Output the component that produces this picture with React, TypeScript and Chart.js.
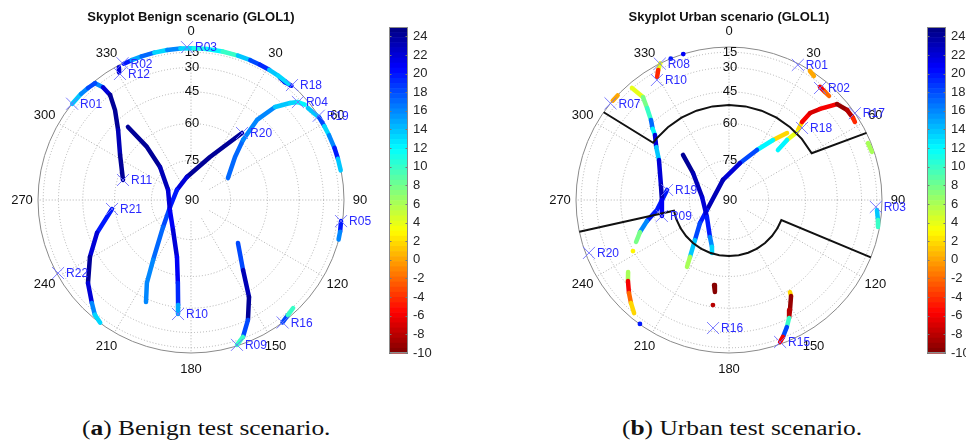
import React, { useEffect, useRef } from "react";
import { Chart, registerables } from "chart.js";

Chart.register(...registerables);

type Pt = [number, number, number]; // [azimuth deg, elevation deg, value]

const colorMin = -10;
const colorMax = 25;
const colorTicks = [-10, -8, -6, -4, -2, 0, 2, 4, 6, 8, 10, 12, 14, 16, 18, 20, 22, 24];
const azimuthTicks = [0, 30, 60, 90, 120, 150, 180, 210, 240, 270, 300, 330];
const elevationRings = [15, 30, 45, 60, 75];
const elevationTicks = [15, 30, 45, 60, 75, 90];

// ---------- Benign scenario ----------
const benignR02: Pt[] = [[333.8, 7, 20], [337, 7, 15], [341, 7, 17], [346, 7, 13], [351, 7, 16], [356, 7, 13], [1, 7, 11], [6, 7, 12], [12, 7, 10], [18, 7, 14], [23, 7, 18], [27, 7, 19], [31, 7, 14], [35, 7, 13], [40, 7, 15]];
const benignR12: Pt[] = [[331.5, 9, 22], [330.6, 17, 23]];
const benignR18: Pt[] = [[36.1, 9, 22], [38.5, 10, 20], [41.3, 6, 18]];
const benignR01: Pt[] = [[309, 3, 14], [314, 3, 16], [317.4, 6, 18], [320.6, 9, 15]];
const benignR11: Pt[] = [[320.6, 9, 16], [322, 20.8, 22], [322.4, 29.9, 24], [319.8, 39.7, 24], [313.8, 48.7, 23], [302.4, 56.7, 24], [286.4, 62.4, 23]];
const benignR10: Pt[] = [[319.2, 50.9, 24], [320.3, 63.2, 24], [316.8, 72.8, 23], [293.5, 80.6, 22], [244.5, 81.2, 21], [211, 76.8, 22], [193.8, 67.4, 21], [189, 56.7, 19], [187, 46.3, 15], [186.5, 41.4, 16]];
const benignR20: Pt[] = [[37.3, 56.6, 24], [23.8, 72.1, 24], [350, 81.2, 22], [305.5, 83.5, 20], [251.6, 81.7, 18], [226, 75.3, 17], [212.3, 62.4, 16], [208, 52.1, 16], [203.8, 43.2, 14]];
const benignR04: Pt[] = [[59.3, 73.7, 17], [45.7, 66.3, 17], [40.9, 58.7, 16], [39.5, 47.3, 16], [42.1, 35, 14], [45.6, 25, 13], [47.5, 18.6, 12], [50, 14, 9]];
const benignR19: Pt[] = [[51.8, 13.5, 14], [57.2, 5, 18], [61, 5, 13], [64.9, 5, 16], [70, 4, 20], [74.3, 4, 14], [78.8, 4, 13]];
const benignR05: Pt[] = [[98, 8, 20], [102, 5, 16], [105, 3, 11]];
const benignR21: Pt[] = [[263.5, 58.7, 20], [250.7, 49.4, 22], [240.6, 40.7, 24], [231.1, 30.1, 22], [223.9, 20.9, 16], [220, 12, 13], [216.5, 4, 18]];
const benignR09: Pt[] = [[132.5, 65.4, 18], [143.4, 55.2, 23], [149.1, 42.4, 24], [154.6, 29.8, 18], [159.2, 16.8, 10], [162.4, 6.6, 14]];
const benignR16: Pt[] = [[143.2, 3, 18], [139.9, 10.5, 10], [136.6, 13.7, 8]];
const benignTracks: Pt[][] = [benignR02, benignR12, benignR18, benignR01, benignR11, benignR10, benignR20, benignR04, benignR19, benignR05, benignR21, benignR09, benignR16];
const benignDots: Pt[] = [];

const benignNames = ["R03", "R02", "R12", "R01", "R18", "R04", "R19", "R20", "R11", "R21", "R05", "R22", "R10", "R16", "R09"];
const benignNameAz = [358.5, 333.4, 330.6, 309, 41.3, 47.5, 56.6, 37.3, 286.4, 263.5, 98, 241.2, 186.5, 143.2, 162.4];
const benignNameEl = [2, 2, 19, 1, 1, 18.6, 1, 56.6, 62.4, 58.7, 8, 7.5, 41.4, 1, 6.6];

// ---------- Urban scenario ----------
const urbanR10: Pt[] = [[333.3, 2, 4], [331.4, 14.7, -4], [329.7, 21.4, -6]];
const urbanR07: Pt[] = [[310.5, 2, 0], [313.2, 3, 2]];
const urbanR09: Pt[] = [[319.1, 14.4, 4], [320.1, 28.7, 8], [318.3, 36.4, 10], [315.7, 43.1, 17], [313, 47, 12], [311.3, 49.9, 22], [306, 54, 14], [299.7, 58.2, 22], [282.4, 62.9, 23], [270, 64, 21], [256.6, 63.2, 20]];
const urbanR19: Pt[] = [[279.2, 65.8, 20], [262.1, 61.6, 20], [255.6, 56.4, 16], [250.2, 51.8, 8], [245.7, 48.2, 0]];
const urbanTrackA: Pt[] = [[314.4, 65.1, 24], [306.9, 72.9, 23], [276.3, 79.8, 22], [232.3, 79.5, 20], [207.2, 74.2, 16], [200, 71, 13], [197.8, 68.7, 8]];
const urbanR18: Pt[] = [[40.9, 54.6, 2], [36.3, 60.9, 12], [29.2, 68, 18], [16.6, 75.4, 22], [343.3, 82.1, 23], [245.6, 80.9, 20], [231.6, 76, 18], [220.4, 69.9, 14], [214.4, 63.2, 6], [212.1, 58.9, -4]];
const urbanR18b: Pt[] = [[45, 51, 4], [44, 56.9, 12], [44.4, 62.8, 8]];
const urbanR17: Pt[] = [[44.6, 50, 2], [43.1, 45.7, -6], [43, 39, -7], [45, 32.7, -6], [48.4, 19.2, -9], [52.7, 14, -8], [56.5, 13.6, -4], [58.2, 14.4, 4]];
const urbanR01: Pt[] = [[32.1, 5.5, 0], [34.4, 10.8, 6]];
const urbanR02: Pt[] = [[38.8, 18.5, -6], [41.6, 19.2, -2], [43.9, 19.4, 4]];
const urbanR17b: Pt[] = [[67.7, 11, 6], [71.4, 9.7, 12]];
const urbanR03: Pt[] = [[93.9, 14.2, 14], [97.6, 10.8, 10], [100.3, 8.2, -4]];
const urbanR20: Pt[] = [[234.5, 35.9, 6], [231.3, 32.2, -6], [227.1, 26.8, -2], [223.6, 21.7, 2], [220, 15.2, 6]];
const urbanR16: Pt[] = [[190, 55.7, -10], [188.7, 52.5, -9]];
const urbanR15: Pt[] = [[146.5, 43.8, 2], [147.1, 41.7, -9], [151, 34.7, -8], [153, 30.1, 10], [155.5, 24.2, 18], [158.5, 15.8, -6], [160.2, 9.5, -8]];
const urbanTracks: Pt[][] = [urbanR10, urbanR07, urbanR09, urbanR19, urbanTrackA, urbanR18, urbanR18b, urbanR17, urbanR01, urbanR02, urbanR17b, urbanR03, urbanR20, urbanR16, urbanR15];
const urbanDots: Pt[] = [[337.6, 2, 20], [342.6, 2, 21], [242, 44.7, 3], [215.7, 4, 20], [188.7, 46, -8]];

const urbanNames = ["R08", "R10", "R07", "R01", "R02", "R17", "R18", "R19", "R09", "R03", "R20", "R16", "R15"];
const urbanNameAz = [333.1, 329, 309.2, 27, 39.1, 55.4, 45.4, 279.2, 256.6, 92.7, 249.3, 187.1, 160.2];
const urbanNameEl = [2, 23.8, 2, 7.7, 19.4, 2, 47.9, 65.8, 63.2, 16.1, 12, 32.5, 9.5];

// elevation mask (urban)
const maskUpperAz = [305, 307, 310, 320, 330, 340, 350, 0, 10, 20, 30, 40, 50, 60.5, 64];
const maskUpperEl = [0, 51.6, 51.6, 51.6, 51.6, 51.6, 51.6, 51.6, 51.6, 51.6, 51.6, 51.6, 51.6, 51.6, 0];
const maskLowerAz = [258, 259, 250, 240, 230, 220, 210, 200, 190, 180, 170, 160, 150, 140, 130, 120, 111, 112];
const maskLowerEl = [0, 68.5, 68.5, 68.5, 68.5, 68.5, 68.5, 68.5, 68.5, 68.5, 68.5, 68.5, 68.5, 68.5, 68.5, 68.5, 68.5, 0];

const D2R = Math.PI / 180;
const SANS = "'Liberation Sans', Arial, Helvetica, sans-serif";

function toXY(az: number, el: number) {
  return { x: Math.cos(el * D2R) * Math.sin(az * D2R), y: Math.cos(el * D2R) * Math.cos(az * D2R) };
}

function jetByIndex(i: number) {
  const t = (i + 0.5) / 64;
  const c = (v: number) => Math.round(255 * Math.min(1, Math.max(0, v)));
  return `rgb(${c(1.5 - Math.abs(4 * t - 3))},${c(1.5 - Math.abs(4 * t - 2))},${c(1.5 - Math.abs(4 * t - 1))})`;
}

function colorOf(v: number) {
  let i = Math.floor(((colorMax - v) / (colorMax - colorMin)) * 64);
  i = Math.max(0, Math.min(63, i));
  return jetByIndex(i);
}

type SkyProps = {
  title: string;
  tracks: Pt[][];
  dots: Pt[];
  names: string[];
  nameAz: number[];
  nameEl: number[];
  masks: { az: number[]; el: number[] }[];
  left: number;
  width: number;
  cx: number;
};

function SkyPlot(p: SkyProps) {
  const ref = useRef<HTMLCanvasElement>(null);
  useEffect(() => {
    const R = 153;
    const cy = 200;
    const height = 380;
    const datasets: any[] = [];
    datasets.push({
      data: p.names.map((_, i) => toXY(p.nameAz[i], p.nameEl[i])),
      pointStyle: "crossRot",
      pointRadius: 8.5,
      pointBorderColor: "rgba(110,110,255,0.9)",
      pointBackgroundColor: "transparent",
      pointBorderWidth: 1,
      showLine: false,
      clip: false,
    });
    p.masks.forEach((m) =>
      datasets.push({
        data: m.az.map((a, i) => toXY(a, m.el[i])),
        showLine: true,
        borderColor: "#111",
        borderWidth: 2,
        pointRadius: 0,
        clip: false,
      })
    );
    if (p.dots.length) {
      datasets.push({
        data: p.dots.map((d) => toXY(d[0], d[1])),
        pointRadius: 2.4,
        pointBackgroundColor: p.dots.map((d) => colorOf(d[2])),
        pointBorderWidth: 0,
        showLine: false,
        clip: false,
      });
    }
    p.tracks.forEach((tr) =>
      datasets.push({
        data: tr.map((d) => toXY(d[0], d[1])),
        showLine: true,
        borderWidth: 4.5,
        borderCapStyle: "round",
        borderJoinStyle: "round",
        borderColor: colorOf(tr[0][2]),
        segment: { borderColor: (c: any) => colorOf(tr[c.p0DataIndex][2]) },
        pointRadius: 0,
        clip: false,
      })
    );

    const skyPlugin = {
      id: "sky",
      beforeDatasetsDraw(chart: any) {
        const ctx = chart.ctx;
        const xs = chart.scales.x;
        const ys = chart.scales.y;
        const x0 = xs.getPixelForValue(0);
        const y0 = ys.getPixelForValue(0);
        const rr = xs.getPixelForValue(1) - x0;
        ctx.save();
        ctx.lineWidth = 1;
        ctx.strokeStyle = "#b0b0b0";
        ctx.setLineDash([1, 2]);
        const r0 = rr * Math.cos(82 * D2R);
        azimuthTicks.forEach((a) => {
          const s = Math.sin(a * D2R);
          const c = Math.cos(a * D2R);
          ctx.beginPath();
          ctx.moveTo(x0 + r0 * s, y0 - r0 * c);
          ctx.lineTo(x0 + rr * s, y0 - rr * c);
          ctx.stroke();
        });
        elevationRings.forEach((e) => {
          ctx.beginPath();
          ctx.arc(x0, y0, rr * Math.cos(e * D2R), 0, Math.PI * 2);
          ctx.stroke();
        });
        ctx.setLineDash([]);
        ctx.strokeStyle = "#8a8a8a";
        ctx.beginPath();
        ctx.arc(x0, y0, rr, 0, Math.PI * 2);
        ctx.stroke();
        ctx.fillStyle = "#111";
        ctx.font = `13px ${SANS}`;
        ctx.textAlign = "center";
        ctx.textBaseline = "middle";
        elevationTicks.forEach((e) => {
          ctx.fillText(String(e), x0 + 1, y0 - rr * Math.cos(e * D2R));
        });
        azimuthTicks.forEach((a) => {
          const r1 = rr + 16;
          ctx.fillText(String(a), x0 + r1 * Math.sin(a * D2R), y0 - r1 * Math.cos(a * D2R));
        });
        ctx.font = `bold 13px ${SANS}`;
        ctx.fillText(p.title, x0, 17);
        ctx.restore();
      },
      afterDatasetsDraw(chart: any) {
        const ctx = chart.ctx;
        const meta = chart.getDatasetMeta(0);
        ctx.save();
        ctx.fillStyle = "#2a2aff";
        ctx.font = `12px ${SANS}`;
        ctx.textAlign = "left";
        ctx.textBaseline = "middle";
        meta.data.forEach((pt: any, i: number) => {
          ctx.fillText(p.names[i], pt.x + 8, pt.y + 1);
        });
        ctx.restore();
      },
    };

    const chart = new Chart(ref.current as HTMLCanvasElement, {
      type: "scatter",
      data: { datasets },
      options: {
        responsive: false,
        animation: false,
        devicePixelRatio: 1,
        events: [],
        layout: {
          padding: { left: p.cx - R, right: p.width - (p.cx + R), top: cy - R, bottom: height - (cy + R) },
        },
        plugins: { legend: { display: false }, tooltip: { enabled: false } },
        scales: {
          x: { type: "linear", min: -1, max: 1, display: false },
          y: { type: "linear", min: -1, max: 1, display: false },
        },
      } as any,
      plugins: [skyPlugin],
    });
    return () => chart.destroy();
  }, []);
  return (
    <canvas
      ref={ref}
      width={p.width}
      height={380}
      style={{ position: "absolute", left: p.left, top: 0, width: p.width, height: 380 }}
    />
  );
}

function ColorBar({ left, width }: { left: number; width: number }) {
  const ref = useRef<HTMLCanvasElement>(null);
  useEffect(() => {
    const barW = 19;
    const padL = 9;
    const cbPlugin = {
      id: "cbar",
      beforeDatasetsDraw(chart: any) {
        const ctx = chart.ctx;
        const a = chart.chartArea;
        const y = chart.scales.y;
        ctx.save();
        for (let i = 0; i < 64; i++) {
          const vt = colorMax - (i * (colorMax - colorMin)) / 64;
          const vb = colorMax - ((i + 1) * (colorMax - colorMin)) / 64;
          const yt = y.getPixelForValue(vt);
          const yb = y.getPixelForValue(vb);
          ctx.fillStyle = jetByIndex(i);
          ctx.fillRect(a.left, yt, a.right - a.left, yb - yt + 0.6);
        }
        ctx.strokeStyle = "#777";
        ctx.lineWidth = 1;
        colorTicks.forEach((v) => {
          const yy = Math.round(y.getPixelForValue(v)) + 0.5;
          ctx.beginPath();
          ctx.moveTo(a.left, yy);
          ctx.lineTo(a.left + 2.5, yy);
          ctx.moveTo(a.right, yy);
          ctx.lineTo(a.right - 2.5, yy);
          ctx.stroke();
        });
        ctx.strokeStyle = "#8a8a8a";
        ctx.strokeRect(a.left + 0.5, a.top + 0.5, a.right - a.left - 1, a.bottom - a.top - 1);
        ctx.restore();
      },
    };
    const chart = new Chart(ref.current as HTMLCanvasElement, {
      type: "bar",
      data: { labels: [""], datasets: [{ data: [] }] },
      options: {
        responsive: false,
        animation: false,
        devicePixelRatio: 1,
        events: [],
        layout: { padding: { left: padL, right: 0, top: 27, bottom: 27 } },
        plugins: { legend: { display: false }, tooltip: { enabled: false } },
        scales: {
          x: { display: false },
          y: {
            position: "right",
            min: colorMin,
            max: colorMax,
            grid: { display: false, drawTicks: false },
            border: { display: false },
            afterBuildTicks: (s: any) => {
              s.ticks = colorTicks.map((v) => ({ value: v }));
            },
            afterFit: (s: any) => {
              s.width = width - padL - barW;
            },
            ticks: { padding: 5, autoSkip: false, color: "#262626", font: { family: SANS, size: 13 } },
          },
        },
      } as any,
      plugins: [cbPlugin],
    });
    return () => chart.destroy();
  }, []);
  return (
    <canvas
      ref={ref}
      width={width}
      height={380}
      style={{ position: "absolute", left, top: 0, width, height: 380 }}
    />
  );
}

const captionStyle: React.CSSProperties = {
  position: "absolute",
  top: 418,
  fontFamily: "'Liberation Serif', 'Times New Roman', serif",
  fontSize: 20.5,
  lineHeight: "20.5px",
  color: "#111",
  whiteSpace: "nowrap",
  transform: "scaleX(1.24)",
  transformOrigin: "left top",
};

export default function App() {
  return (
    <div style={{ position: "absolute", left: 0, top: 0, width: 966, height: 441, background: "#fff", overflow: "hidden" }}>
      <SkyPlot
        title="Skyplot Benign scenario (GLOL1)"
        tracks={benignTracks}
        dots={benignDots}
        names={benignNames}
        nameAz={benignNameAz}
        nameEl={benignNameEl}
        masks={[]}
        left={0}
        width={400}
        cx={191}
      />
      <ColorBar left={380} width={60} />
      <SkyPlot
        title="Skyplot Urban scenario (GLOL1)"
        tracks={urbanTracks}
        dots={urbanDots}
        names={urbanNames}
        nameAz={urbanNameAz}
        nameEl={urbanNameEl}
        masks={[
          { az: maskUpperAz, el: maskUpperEl },
          { az: maskLowerAz, el: maskLowerEl },
        ]}
        left={480}
        width={440}
        cx={249}
      />
      <ColorBar left={918} width={48} />
      <div style={{ ...captionStyle, left: 82 }}>
        (<b>a</b>) Benign test scenario.
      </div>
      <div style={{ ...captionStyle, left: 622 }}>
        (<b>b</b>) Urban test scenario.
      </div>
    </div>
  );
}
